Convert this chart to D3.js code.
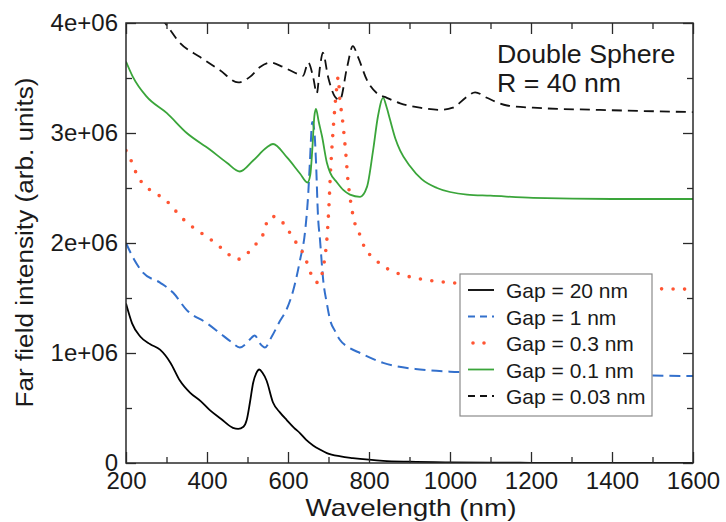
<!DOCTYPE html>
<html><head><meta charset="utf-8">
<script src="https://cdn.jsdelivr.net/npm/d3@7"></script>
<style>
html,body{margin:0;padding:0;background:#fff;}
svg{display:block;font-family:"Liberation Sans",Arial,Helvetica,sans-serif;}
</style></head>
<body>
<svg id="chart" width="726" height="522"></svg>
<script>
// ---- data (wavelength nm, intensity in units of 1e6) ----
const wl20 = [200,215,235,260,284,310,333,358,385,407,435,464,477,490,498,506,514,522,529,537,547,563,580,597,615,630,645,662,680,696,730,760,800,835,900,1000,1100,1200,1400,1600];
const gap20 = [1.45,1.27,1.15,1.08,1.03,0.91,0.75,0.64,0.56,0.48,0.40,0.32,0.31,0.33,0.39,0.55,0.73,0.82,0.85,0.82,0.75,0.55,0.46,0.39,0.32,0.27,0.21,0.16,0.12,0.09,0.06,0.045,0.03,0.02,0.012,0.006,0.003,0.002,0.001,0.0];

const wl1 = [200,220,242,284,316,350,400,432,460,481,495,505,518,530,543,560,580,597,613,630,642,650,654,660,665,669,674,679,687,696,704,716,728,750,778,835,926,1000,1100,1200,1400,1600];
const gap1 = [2.0,1.85,1.73,1.64,1.55,1.39,1.27,1.18,1.10,1.05,1.08,1.12,1.16,1.09,1.05,1.15,1.29,1.40,1.57,1.85,2.10,2.45,2.73,3.10,3.02,2.75,2.25,2.03,1.66,1.45,1.30,1.20,1.12,1.05,1.0,0.91,0.85,0.83,0.82,0.81,0.80,0.79];

const wl03 = [200,215,227,247,274,301,323,346,370,398,424,449,474,501,523,541,551,565,578,598,615,634,647,659,668,674,680,686,691,695,701,705,710,715,720,724,728,733,738,743,748,753,758,765,778,790,810,835,860,893,950,1000,1100,1200,1400,1600];
const gap03 = [2.84,2.73,2.62,2.52,2.45,2.38,2.29,2.20,2.13,2.06,1.99,1.91,1.85,1.91,2.0,2.10,2.22,2.24,2.22,2.13,2.03,1.93,1.82,1.70,1.65,1.64,1.68,1.75,1.87,1.99,2.33,2.65,2.95,3.20,3.40,3.51,3.30,3.17,3.0,2.80,2.57,2.42,2.30,2.18,2.07,1.95,1.87,1.79,1.74,1.70,1.66,1.64,1.62,1.61,1.59,1.58];

const wl01 = [200,217,251,301,350,407,449,481,514,548,563,597,630,648,655,660,665,669,676,684,696,704,721,737,753,778,795,810,822,835,843,852,865,877,901,930,968,1042,1100,1205,1400,1600];
const gap01 = [3.65,3.51,3.33,3.18,3.0,2.85,2.73,2.65,2.75,2.87,2.90,2.78,2.63,2.55,2.62,2.85,3.15,3.22,3.10,2.97,2.73,2.64,2.55,2.48,2.44,2.42,2.51,2.84,3.15,3.32,3.24,3.12,2.95,2.84,2.70,2.58,2.50,2.44,2.43,2.41,2.40,2.40];

const wl003 = [200,250,296,333,383,432,477,506,531,556,588,622,637,650,662,671,679,686,699,716,728,746,760,773,795,820,844,877,926,975,1007,1042,1062,1091,1141,1205,1370,1600];
const gap003 = [4.35,4.15,4.0,3.82,3.69,3.57,3.46,3.51,3.60,3.64,3.60,3.54,3.52,3.64,3.51,3.36,3.60,3.73,3.51,3.33,3.30,3.60,3.79,3.69,3.48,3.36,3.32,3.27,3.23,3.21,3.23,3.33,3.37,3.32,3.25,3.23,3.21,3.19];

const seriesNames = ["Gap = 20 nm","Gap = 1 nm","Gap = 0.3 nm","Gap = 0.1 nm","Gap = 0.03 nm"];
const xTicks = [200,400,600,800,1000,1200,1400,1600];
const yTickLabels = ["0","1e+06","2e+06","3e+06","4e+06"];
const annotation = ["Double Sphere","R = 40 nm"];
const xTitle = "Wavelength (nm)";
const yTitle = "Far field intensity (arb. units)";

// ---- layout ----
const L = 126, R = 693, T = 23, B = 463;
const svg = d3.select("#chart");
const x = d3.scaleLinear().domain([200,1600]).range([L,R]);
const y = d3.scaleLinear().domain([0,4]).range([B,T]);
const frameColor = "#2a2a2a", textColor = "#1a1a1a";

const styles = [
  {color:"#000000", dash:null, width:1.8},
  {color:"#3370cc", dash:"11,6", width:2},
  {color:"#ff5533", dash:"0,11.5", width:3.6, cap:"round"},
  {color:"#3aa53a", dash:null, width:1.8},
  {color:"#111111", dash:"10,6", width:1.8}
];
const series = [
  {wl:wl20, v:gap20},{wl:wl1, v:gap1},{wl:wl03, v:gap03},{wl:wl01, v:gap01},{wl:wl003, v:gap003}
];

svg.append("defs").append("clipPath").attr("id","clip")
  .append("rect").attr("x",L).attr("y",T).attr("width",R-L).attr("height",B-T);

const line = d3.line().x(d=>x(d[0])).y(d=>y(d[1])).curve(d3.curveMonotoneX);
const gLines = svg.append("g").attr("clip-path","url(#clip)");
series.forEach((s,i)=>{
  const pts = s.wl.map((w,j)=>[w,s.v[j]]);
  const st = styles[i];
  gLines.append("path").attr("d",line(pts)).attr("fill","none")
    .attr("stroke",st.color).attr("stroke-width",st.width)
    .attr("stroke-dasharray",st.dash).attr("stroke-linecap",st.cap||"butt")
    .attr("stroke-linejoin","round");
});

// ---- axes: ticks inward on all four sides ----
const fontTick = 24;
function styleAxis(g){
  g.select(".domain").remove();
  g.selectAll(".tick line").attr("stroke",frameColor).attr("stroke-width",1.3);
  g.selectAll("text").attr("fill",textColor).attr("font-size",fontTick).attr("font-family","Liberation Sans, Arial, sans-serif");
}
const xMinor = d3.range(300,1600,200);
const yMinor = [0.5,1.5,2.5,3.5];
svg.append("g").attr("transform",`translate(0,${B})`)
  .call(d3.axisBottom(x).tickValues(xTicks).tickSizeInner(-11).tickSizeOuter(0).tickPadding(9).tickFormat(d3.format("d")))
  .call(styleAxis);
svg.append("g").attr("transform",`translate(0,${B})`)
  .call(d3.axisBottom(x).tickValues(xMinor).tickSizeInner(-6).tickSizeOuter(0).tickFormat(""))
  .call(styleAxis);
svg.append("g").attr("transform",`translate(0,${T})`)
  .call(d3.axisTop(x).tickValues(xTicks).tickSizeInner(-11).tickSizeOuter(0).tickFormat(""))
  .call(styleAxis);
svg.append("g").attr("transform",`translate(0,${T})`)
  .call(d3.axisTop(x).tickValues(xMinor).tickSizeInner(-6).tickSizeOuter(0).tickFormat(""))
  .call(styleAxis);
svg.append("g").attr("transform",`translate(${L},0)`)
  .call(d3.axisLeft(y).tickValues([0,1,2,3,4]).tickSizeInner(-10).tickSizeOuter(0).tickPadding(8).tickFormat((d,i)=>yTickLabels[i]))
  .call(styleAxis);
svg.append("g").attr("transform",`translate(${L},0)`)
  .call(d3.axisLeft(y).tickValues(yMinor).tickSizeInner(-6).tickSizeOuter(0).tickFormat(""))
  .call(styleAxis);
svg.append("g").attr("transform",`translate(${R},0)`)
  .call(d3.axisRight(y).tickValues([0,1,2,3,4]).tickSizeInner(-10).tickSizeOuter(0).tickFormat(""))
  .call(styleAxis);
svg.append("g").attr("transform",`translate(${R},0)`)
  .call(d3.axisRight(y).tickValues(yMinor).tickSizeInner(-6).tickSizeOuter(0).tickFormat(""))
  .call(styleAxis);

svg.append("rect").attr("x",L).attr("y",T).attr("width",R-L).attr("height",B-T)
  .attr("fill","none").attr("stroke",frameColor).attr("stroke-width",1.5);

// ---- titles ----
svg.append("text").attr("transform",`translate(${(L+R)/2+1.5},516) scale(1.16,1)`)
  .attr("text-anchor","middle").attr("font-size",24).attr("fill",textColor).text(xTitle);
svg.append("text").attr("transform",`translate(33,242.5) rotate(-90) scale(1.09,1)`)
  .attr("text-anchor","middle").attr("font-size",24).attr("fill",textColor).text(yTitle);

// annotation
annotation.forEach((t,i)=>{
  svg.append("text").attr("transform",`translate(497,${63+i*29}) scale(1.07,1)`)
    .attr("font-size",25).attr("fill",textColor).text(t);
});

// ---- legend ----
const lg = svg.append("g");
lg.append("rect").attr("x",460).attr("y",274).attr("width",192).attr("height",142)
  .attr("fill","#fff").attr("stroke","#8a8a8a").attr("stroke-width",1.2);
seriesNames.forEach((name,i)=>{
  const by = 298 + i*26.5;
  const st = styles[i];
  lg.append("line").attr("x1",468).attr("x2",494).attr("y1",by-8).attr("y2",by-8)
    .attr("stroke",st.color).attr("stroke-width",st.width)
    .attr("stroke-dasharray", i===1? "7,5" : i===4 ? "7,5" : i===2 ? "0,11" : null)
    .attr("stroke-dashoffset", i===2 ? -5 : 0)
    .attr("stroke-linecap",st.cap||"butt");
  lg.append("text").attr("x",506).attr("y",by).attr("font-size",21).attr("fill",textColor).text(name);
});
</script>
</body></html>
